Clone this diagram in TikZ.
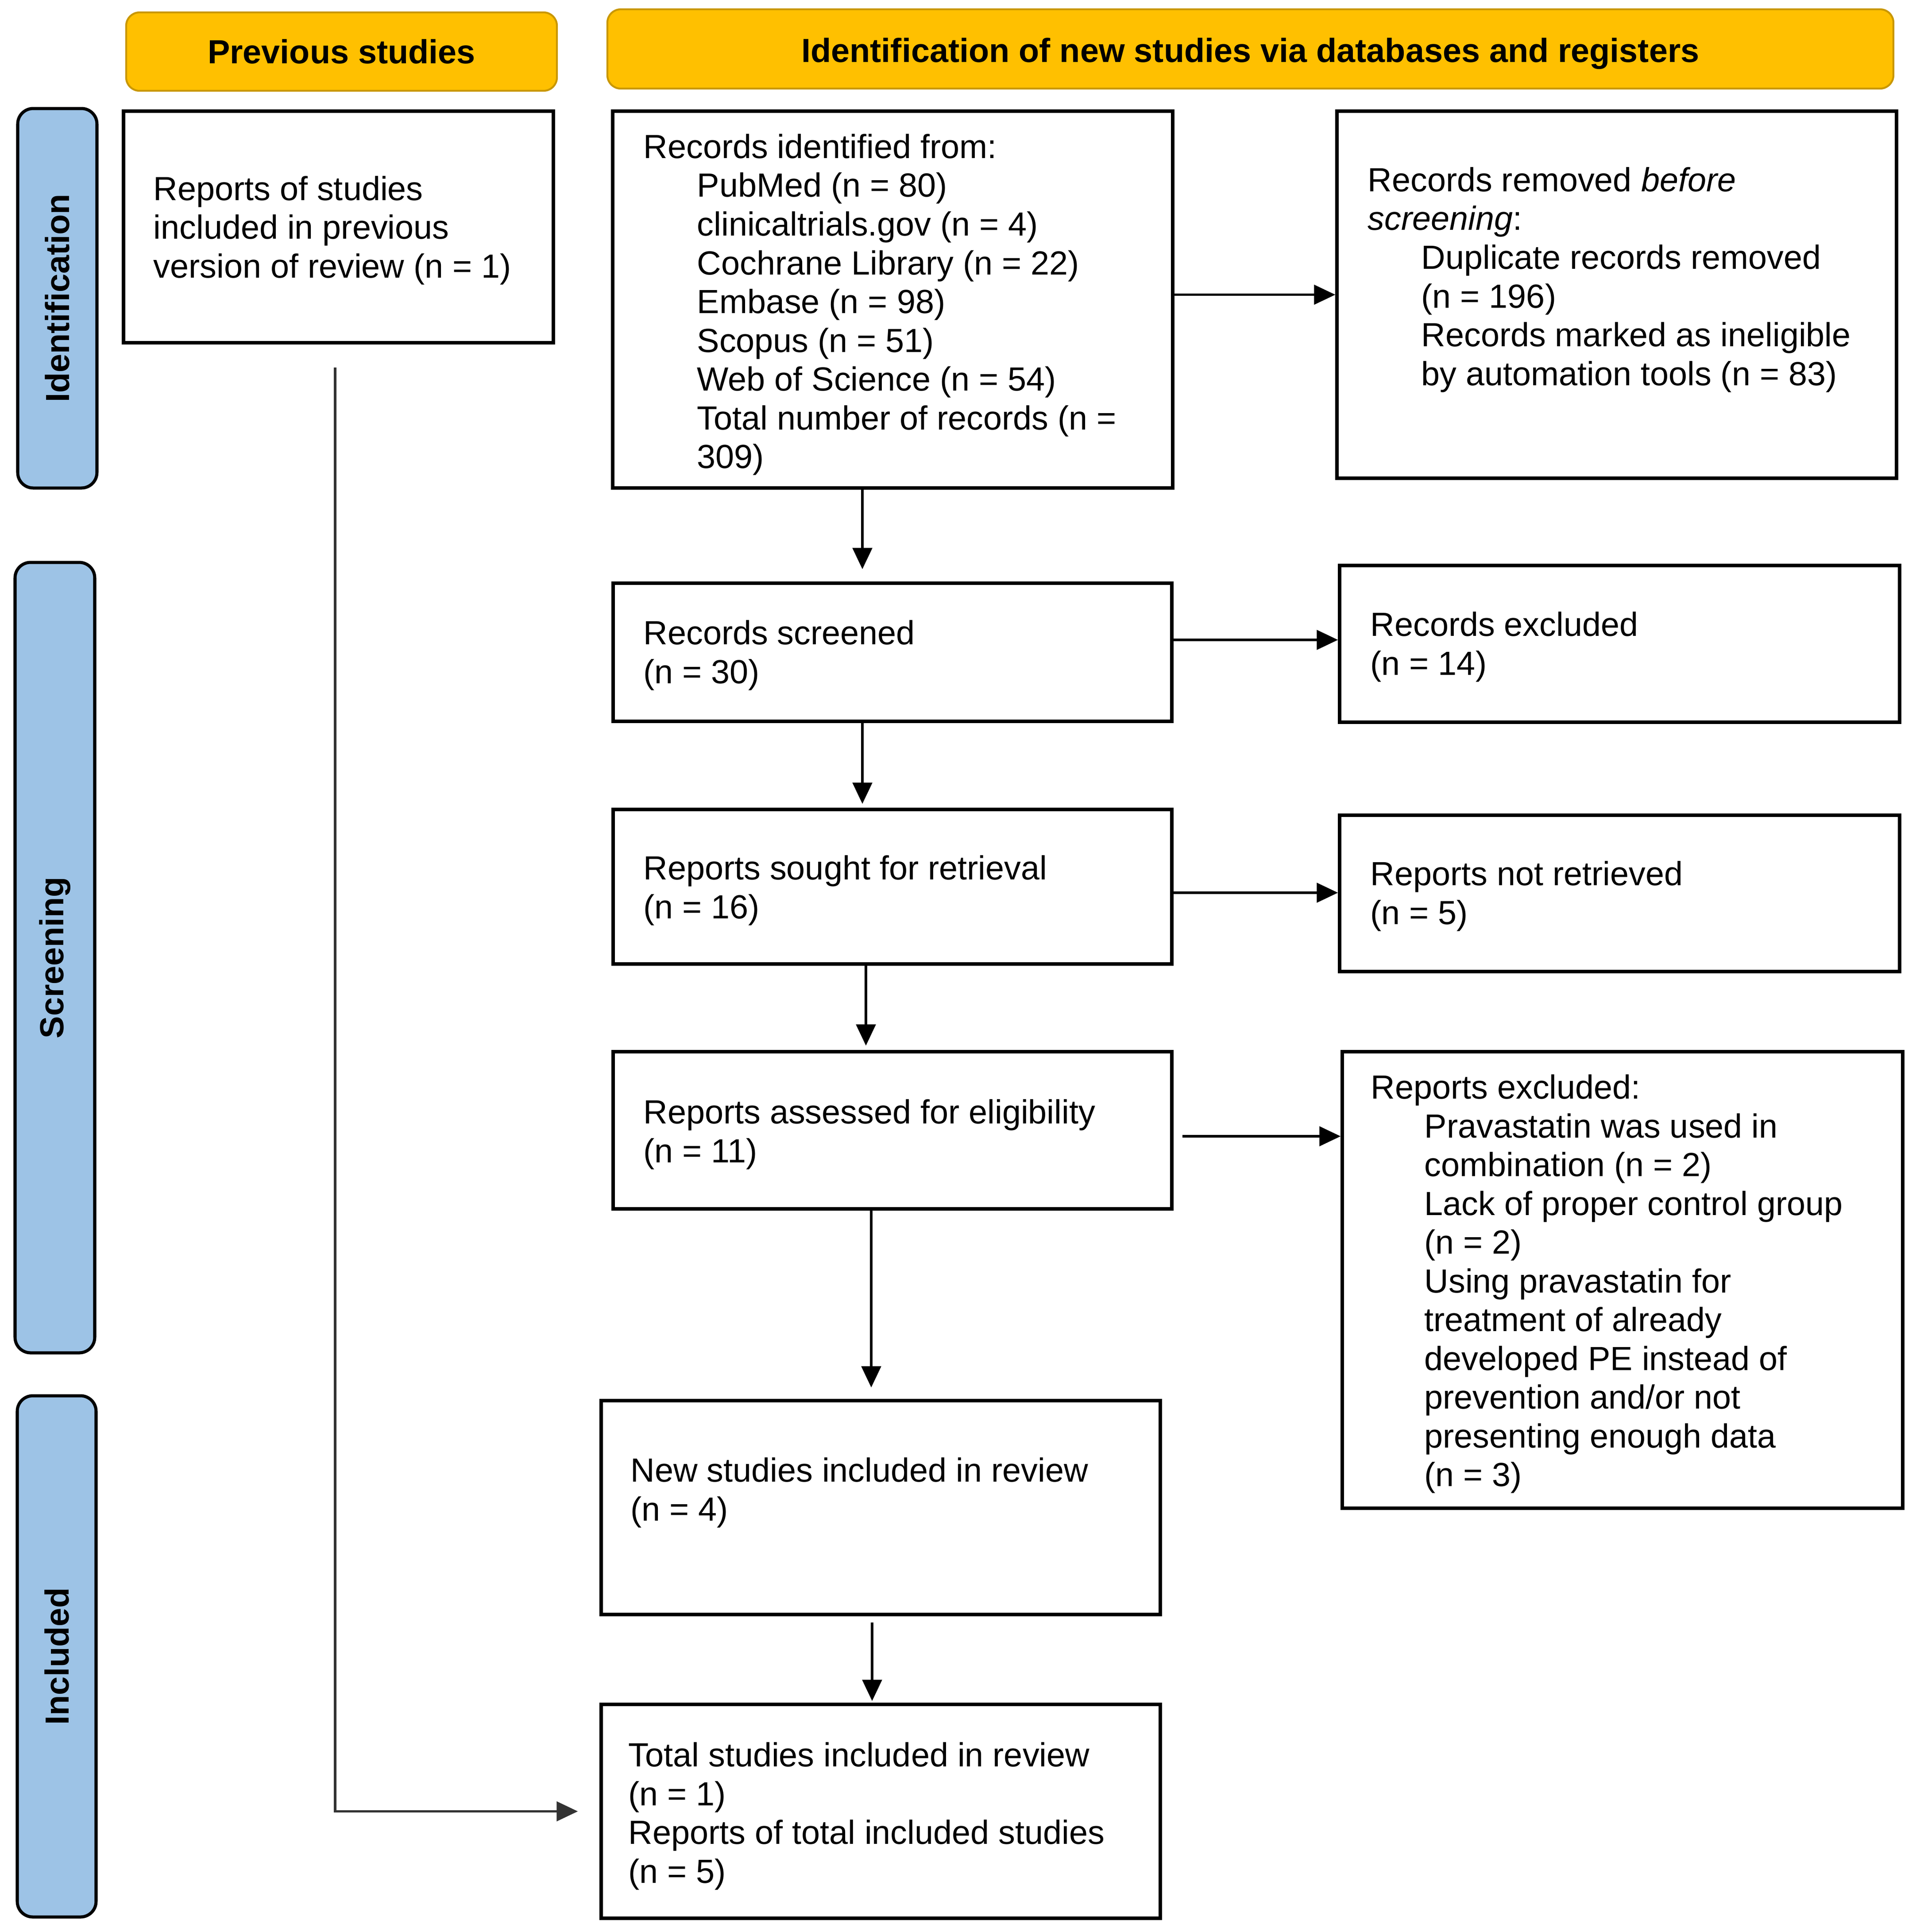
\documentclass[tikz,border=0pt]{standalone}
\usepackage{fontspec}
\setmainfont{Liberation Sans}
\usetikzlibrary{arrows.meta}
\definecolor{hdrfill}{HTML}{FFC000}
\definecolor{hdrline}{HTML}{C99700}
\definecolor{sidefill}{HTML}{9DC3E6}
\newcommand{\rbox}[6]{\node[#6, minimum width={(#4-#2)*1cm}, minimum height={(#5-#3)*1cm}] (#1) at ({(#2+#4)/2},{-(#3+#5)/2}) {};}
\newcommand{\ind}{\hspace*{1.21cm}}
\begin{document}
\begin{tikzpicture}[
 x=1cm,y=1cm,
 boxst/.style={draw=black, line width=2.1pt, inner sep=0pt},
 hdr/.style={draw=hdrline, line width=1.2pt, fill=hdrfill, rounded corners=0.3cm, inner sep=0pt, font=\fontsize{21.5}{24.9}\selectfont\bfseries},
 side/.style={draw=black, line width=2pt, fill=sidefill, rounded corners=0.35cm, inner sep=0pt},
 sidelbl/.style={rotate=90, font=\fontsize{21.5}{24.9}\selectfont\bfseries, inner sep=0pt},
 txt/.style={anchor=north west, align=left, inner sep=0pt, font=\fontsize{21.5}{24.9}\selectfont},
 arr/.style={line width=1.6pt, -{Triangle[length=0.48cm, width=0.44cm]}},
]
\useasboundingbox (0,0) rectangle (43.28,-43.63);

% headers
\node[hdr, minimum width=9.73cm, minimum height=1.77cm] (h1) at (7.715,-1.165) {Previous studies};
\node[hdr, minimum width=29.05cm, minimum height=1.79cm, text depth=0.02cm] (h2) at (28.245,-1.105) {\raisebox{-0.08cm}{Identification of new studies via databases and registers}};

% side bars
\rbox{s1}{0.40}{2.45}{2.19}{11.02}{side}
\rbox{s2}{0.34}{12.70}{2.14}{30.55}{side}
\rbox{s3}{0.39}{31.52}{2.17}{43.29}{side}
\node[sidelbl] (s1t) at (s1) {Identification};
\node[sidelbl] (s2t) at (s2) {Screening};
\node[sidelbl] (s3t) at (s3) {Included};

% boxes
\rbox{prev}{2.79}{2.51}{12.50}{7.74}{boxst}
\rbox{rec}{13.84}{2.51}{26.49}{11.02}{boxst}
\rbox{rem}{30.20}{2.51}{42.84}{10.80}{boxst}
\rbox{scr}{13.85}{13.17}{26.47}{16.29}{boxst}
\rbox{exc}{30.26}{12.77}{42.91}{16.31}{boxst}
\rbox{sou}{13.85}{18.28}{26.47}{21.77}{boxst}
\rbox{nr}{30.26}{18.41}{42.91}{21.94}{boxst}
\rbox{ass}{13.85}{23.75}{26.47}{27.30}{boxst}
\rbox{rex}{30.32}{23.75}{42.98}{34.06}{boxst}
\rbox{new}{13.58}{31.63}{26.21}{36.46}{boxst}
\rbox{tot}{13.58}{38.49}{26.21}{43.32}{boxst}

% texts
\node[txt] (prevt) at (3.46,-3.97) {Reports of studies\\included in previous\\version of review (n = 1)};
\node[txt] (rect) at (14.53,-3.02) {Records identified from:\\
\ind PubMed (n = 80)\\
\ind clinicaltrials.gov (n = 4)\\
\ind Cochrane Library (n = 22)\\
\ind Embase (n = 98)\\
\ind Scopus (n = 51)\\
\ind Web of Science (n = 54)\\
\ind Total number of records (n =\\
\ind 309)};
\node[txt] (remt) at (30.89,-3.77) {Records removed \textit{before}\\
\textit{screening}:\\
\ind Duplicate records removed\\
\ind (n = 196)\\
\ind Records marked as ineligible\\
\ind by automation tools (n = 83)};
\node[txt] (scrt) at (14.53,-14.00) {Records screened\\(n = 30)};
\node[txt] (exct) at (30.95,-13.81) {Records excluded\\(n = 14)};
\node[txt] (sout) at (14.53,-19.31) {Reports sought for retrieval\\(n = 16)};
\node[txt] (nrt) at (30.95,-19.44) {Reports not retrieved\\(n = 5)};
\node[txt] (asst) at (14.53,-24.82) {Reports assessed for eligibility\\(n = 11)};
\node[txt] (rext) at (30.96,-24.26) {Reports excluded:\\
\ind Pravastatin was used in\\
\ind combination (n = 2)\\
\ind Lack of proper control group\\
\ind (n = 2)\\
\ind Using pravastatin for\\
\ind treatment of already\\
\ind developed PE instead of\\
\ind prevention and/or not\\
\ind presenting enough data\\
\ind (n = 3)};
\node[txt] (newt) at (14.24,-32.91) {New studies included in review\\(n = 4)};
\node[txt] (tott) at (14.19,-39.34) {Total studies included in review\\(n = 1)\\Reports of total included studies\\(n = 5)};

% connectors
\draw[arr] (rec.east |- rem.west) -- (rem.west);
\draw[arr, shorten >=0.28cm] (19.48,0 |- rec.south) -- (19.48,0 |- scr.north);
\draw[arr] (scr.east |- 0,-14.45) -- (exc.west |- 0,-14.45);
\draw[arr, shorten >=0.09cm] (19.48,0 |- scr.south) -- (19.48,0 |- sou.north);
\draw[arr] (sou.east |- 0,-20.16) -- (nr.west |- 0,-20.16);
\draw[arr, shorten >=0.1cm] (19.56,0 |- sou.south) -- (19.56,0 |- ass.north);
\draw[arr, shorten <=0.2cm] (ass.east |- 0,-25.66) -- (rex.west |- 0,-25.66);
\draw[arr, shorten >=0.26cm] (19.68,0 |- ass.south) -- (19.68,0 |- new.north);
\draw[arr, shorten <=0.14cm, shorten >=0.04cm] (19.70,0 |- new.south) -- (19.70,0 |- tot.north);
\draw[arr, draw=black!80, shorten <=0.52cm, shorten >=0.49cm] (7.57,0 |- prev.south) |- (tot.west);
\end{tikzpicture}
\end{document}
